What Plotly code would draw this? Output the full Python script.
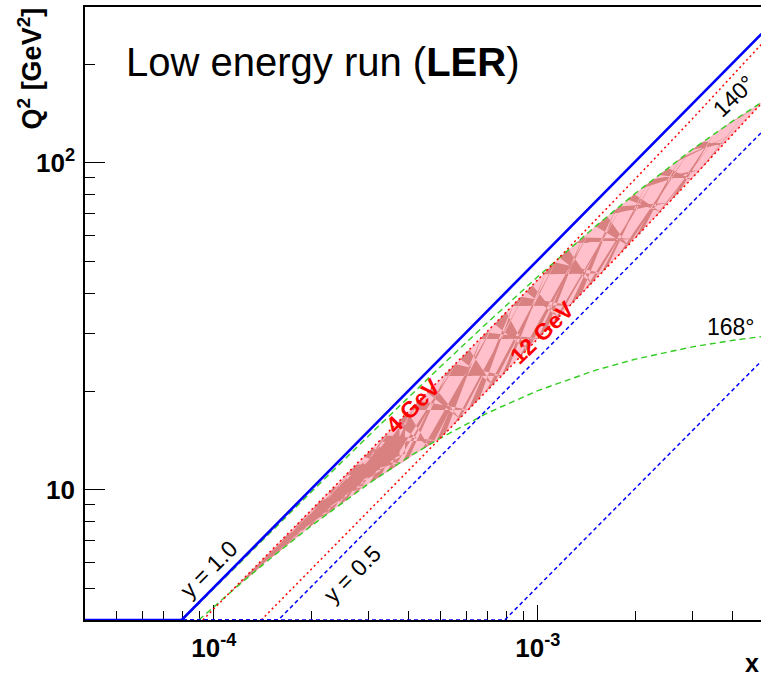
import numpy as np
import plotly.graph_objects as go

# ---------------- data (x, Q^2 in GeV^2) ----------------
# constant-y lines (drawn down to the Q^2 = 4 floor)
y10_x = [4.0e-5, 7.95e-5, 4.9e-3]
y10_q2 = [4.0, 4.0, 248.0]
y05_x = [4.0e-5, 1.58e-4, 4.9e-3]
y05_q2 = [4.0, 4.0, 124.0]
y01_x = [4.0e-5, 7.9e-4, 4.9e-3]
y01_q2 = [4.0, 4.0, 24.8]

# scattered-electron energy lines (red dotted)
e4_x = [9.24e-5, 1.0e-4, 1.5e-4, 2.0e-4, 3.0e-4, 5.0e-4, 7.0e-4, 1.0e-3, 1.5e-3, 2.0e-3, 3.0e-3, 4.0e-3, 4.9e-3]
e4_q2 = [4.0, 4.33, 6.50, 8.68, 13.04, 21.80, 30.63, 43.98, 66.53, 89.47, 136.6, 185.4, 230.8]
e12_x = [1.40e-4, 2.0e-4, 3.0e-4, 5.0e-4, 7.0e-4, 1.0e-3, 1.5e-3, 2.0e-3, 3.0e-3, 4.0e-3, 4.9e-3]
e12_q2 = [4.0, 5.72, 8.60, 14.38, 20.20, 29.01, 43.88, 59.01, 90.08, 122.3, 152.2]

# scattering-angle lines (green dashed)
t140_x = [7.985e-5, 1.0e-4, 1.5e-4, 2.0e-4, 3.0e-4, 5.0e-4, 7.0e-4, 1.0e-3, 1.5e-3, 2.0e-3, 3.0e-3, 4.0e-3, 4.9e-3]
t140_q2 = [4.0, 5.00, 7.45, 9.87, 14.63, 23.80, 32.54, 44.93, 63.81, 80.80, 110.1, 134.5, 153.2]
t168_x = [8.98e-5, 1.0e-4, 1.2e-4, 1.5e-4, 2.0e-4, 3.0e-4, 4.0e-4, 5.0e-4, 7.0e-4, 1.0e-3, 1.5e-3, 2.0e-3, 3.0e-3, 4.0e-3, 4.9e-3]
t168_q2 = [4.0, 4.39, 5.14, 6.19, 7.77, 10.44, 12.63, 14.40, 17.20, 20.13, 23.20, 25.12, 27.39, 28.68, 29.45]

# accepted region (pink band) boundaries
band_up_x = [1.11e-4, 1.5e-4, 2.0e-4, 3.0e-4, 5.0e-4, 7.0e-4, 1.0e-3, 1.167e-3, 1.5e-3, 2.0e-3, 3.0e-3, 4.0e-3, 4.9e-3, 4.965e-3]
band_up_q2 = [4.81, 6.50, 8.68, 13.04, 21.80, 30.63, 43.98, 51.47, 63.81, 80.80, 110.1, 134.5, 153.2, 154.4]
band_lo_x = [1.11e-4, 1.5e-4, 2.0e-4, 3.0e-4, 5.015e-4, 7.0e-4, 1.0e-3, 1.5e-3, 2.0e-3, 3.0e-3, 4.0e-3, 4.9e-3, 4.965e-3]
band_lo_q2 = [4.81, 6.19, 7.77, 10.44, 14.42, 20.20, 29.01, 43.88, 59.01, 90.08, 122.3, 152.2, 154.4]

x_tickvals = [1e-4, 1e-3]
x_ticktext = ["<b>10<sup>-4</sup></b>", "<b>10<sup>-3</sup></b>"]
x_minor = [5e-5, 6e-5, 7e-5, 8e-5, 9e-5, 2e-4, 3e-4, 4e-4, 5e-4, 6e-4, 7e-4, 8e-4, 9e-4, 2e-3, 3e-3, 4e-3]
y_tickvals = [10, 100]
y_ticktext = ["<b>10</b>", "<b>10<sup>2</sup></b>"]
y_minor = [5, 6, 7, 8, 9, 20, 30, 40, 50, 60, 70, 80, 90, 200]

FONT = "Liberation Sans, Arial, Helvetica, sans-serif"
BLUE = "#0000ff"
RED = "#ff0000"
GREEN = "#33cc22"
PINK_LIGHT = "#ffc0cb"
PINK_DARK = "#d98080"

fig = go.Figure()

# ---- band: light fill ----
bx = list(band_up_x) + list(band_lo_x[::-1])
by = list(band_up_q2) + list(band_lo_q2[::-1])
fig.add_trace(go.Scatter(x=bx, y=by, mode="lines", fill="toself", fillcolor=PINK_LIGHT,
                         line=dict(width=0, color=PINK_LIGHT), hoverinfo="skip", showlegend=False))

# ---- band texture: darker criss-cross streaks built from the band edges ----
lux, luy = np.log10(band_up_x), np.log10(band_up_q2)
llx, lly = np.log10(band_lo_x), np.log10(band_lo_q2)
t0, t1 = lux[0], lux[-1]


def up(t):
    return np.interp(t, lux, luy)


def lo(t):
    return np.interp(t, llx, lly)


def mix(t, w):
    return lo(t) + w * (up(t) - lo(t))


steps = [1.0, 1.5, 0.7, 1.2, 0.9, 1.35, 0.8]
knots = [t0]
i = 0
while knots[-1] < t1:
    knots.append(knots[-1] + 0.024 * steps[i % len(steps)])
    i += 1
tx, ty = [], []
for j, t in enumerate(knots[:-1]):
    d = 0.10 + 0.04 * (j % 4)
    w = 0.02 + 0.008 * (j % 3)
    ta, tb, tc = t, min(t + w, t1), min(t + d, t1)
    if j % 2 == 0:
        pts = [(ta, up(ta)), (tb, up(tb)), (tc, lo(tc))]
    else:
        pts = [(ta, lo(ta)), (tb, lo(tb)), (tc, up(tc))]
    for (px, py) in pts + [pts[0]]:
        tx.append(10 ** px)
        ty.append(10 ** py)
    tx.append(None)
    ty.append(None)
# denser core toward the low-x end
for j, t in enumerate(knots[:-1]):
    if t > t0 + 0.45:
        break
    ta, tc = t, min(t + 0.11, t1)
    pts = [(ta, mix(ta, 0.5)), (tc, mix(tc, 0.85)), (tc, mix(tc, 0.15))]
    for (px, py) in pts + [pts[0]]:
        tx.append(10 ** px)
        ty.append(10 ** py)
    tx.append(None)
    ty.append(None)
fig.add_trace(go.Scatter(x=tx, y=ty, mode="lines", fill="toself", fillcolor=PINK_DARK,
                         line=dict(width=0, color=PINK_DARK), hoverinfo="skip", showlegend=False))

# ---- lines ----
def add_line(x, y, color, width, dash):
    fig.add_trace(go.Scatter(x=x, y=y, mode="lines", line=dict(color=color, width=width, dash=dash),
                             hoverinfo="skip", showlegend=False))


add_line(t140_x, t140_q2, GREEN, 1.4, "6px,4px")
add_line(t168_x, t168_q2, GREEN, 1.4, "6px,4px")
add_line(e4_x, e4_q2, RED, 1.5, "2px,3px")
add_line(e12_x, e12_q2, RED, 1.5, "2px,3px")
add_line(y01_x, y01_q2, BLUE, 1.5, "4px,3px")
add_line(y05_x, y05_q2, BLUE, 1.5, "4px,3px")
add_line(y10_x, y10_q2, BLUE, 2.6, "solid")

# ---- annotations ----
ann = []


def txt(x, y, s, size=22, color="black", angle=0, bold=False):
    if bold:
        s = "<b>" + s + "</b>"
    ann.append(dict(x=x, y=y, xref="x", yref="y", text=s, showarrow=False, textangle=angle,
                    font=dict(family=FONT, size=size, color=color), xanchor="center", yanchor="middle"))


txt(np.log10(9.66e-5), 0.757, "y = 1.0", size=23, angle=-45)
txt(np.log10(2.67e-4), 0.744, "y = 0.5", size=23, angle=-45)
txt(np.log10(4.11e-4), 1.258, "4 GeV", size=23, color=RED, angle=-45, bold=True)
txt(np.log10(1.036e-3), 1.482, "12 GeV", size=23, color=RED, angle=-44, bold=True)
txt(np.log10(4.03e-3), 2.205, "140°", size=23, angle=-44)
txt(np.log10(3.94e-3), 1.497, "168°", size=23, angle=0)

ann.append(dict(x=0.057, y=0.91, xref="paper", yref="paper", xanchor="left", yanchor="middle",
                text="Low energy run (<b>LER</b>)", showarrow=False,
                font=dict(family=FONT, size=40, color="black")))
ann.append(dict(x=-0.081, y=1.003, xref="paper", yref="paper", xanchor="center", yanchor="top",
                text="<b>Q<sup>2</sup> [GeV<sup>2</sup>]</b>", showarrow=False, textangle=-90,
                font=dict(family=FONT, size=27, color="black")))
ann.append(dict(x=1.0, y=-0.07, xref="paper", yref="paper", xanchor="right", yanchor="middle",
                text="<b>x</b>", showarrow=False,
                font=dict(family=FONT, size=25, color="black")))

fig.update_layout(
    width=761, height=675,
    margin=dict(l=85, r=0, t=7, b=55),
    paper_bgcolor="white", plot_bgcolor="white",
    showlegend=False,
    annotations=ann,
    xaxis=dict(type="log", range=[np.log10(4e-5), np.log10(4.883e-3)],
               showline=True, linecolor="black", linewidth=1.6, mirror=True,
               ticks="inside", ticklen=15, tickwidth=1.2, tickcolor="black",
               tickmode="array", tickvals=x_tickvals, ticktext=x_ticktext,
               tickfont=dict(family=FONT, size=26, color="black"),
               ticklabelstandoff=4,
               minor=dict(tickmode="array", tickvals=x_minor, ticks="inside", ticklen=9,
                          tickwidth=1.2, tickcolor="black", showgrid=False),
               showgrid=False, zeroline=False, layer="below traces"),
    yaxis=dict(type="log", range=[np.log10(4), np.log10(300)],
               showline=True, linecolor="black", linewidth=1.6,
               ticks="inside", ticklen=20, tickwidth=1.2, tickcolor="black",
               tickmode="array", tickvals=y_tickvals, ticktext=y_ticktext,
               tickfont=dict(family=FONT, size=26, color="black"),
               ticklabelstandoff=3,
               minor=dict(tickmode="array", tickvals=y_minor, ticks="inside", ticklen=10,
                          tickwidth=1.2, tickcolor="black", showgrid=False),
               showgrid=False, zeroline=False, layer="below traces"),
)

fig.write_html("out.html")
